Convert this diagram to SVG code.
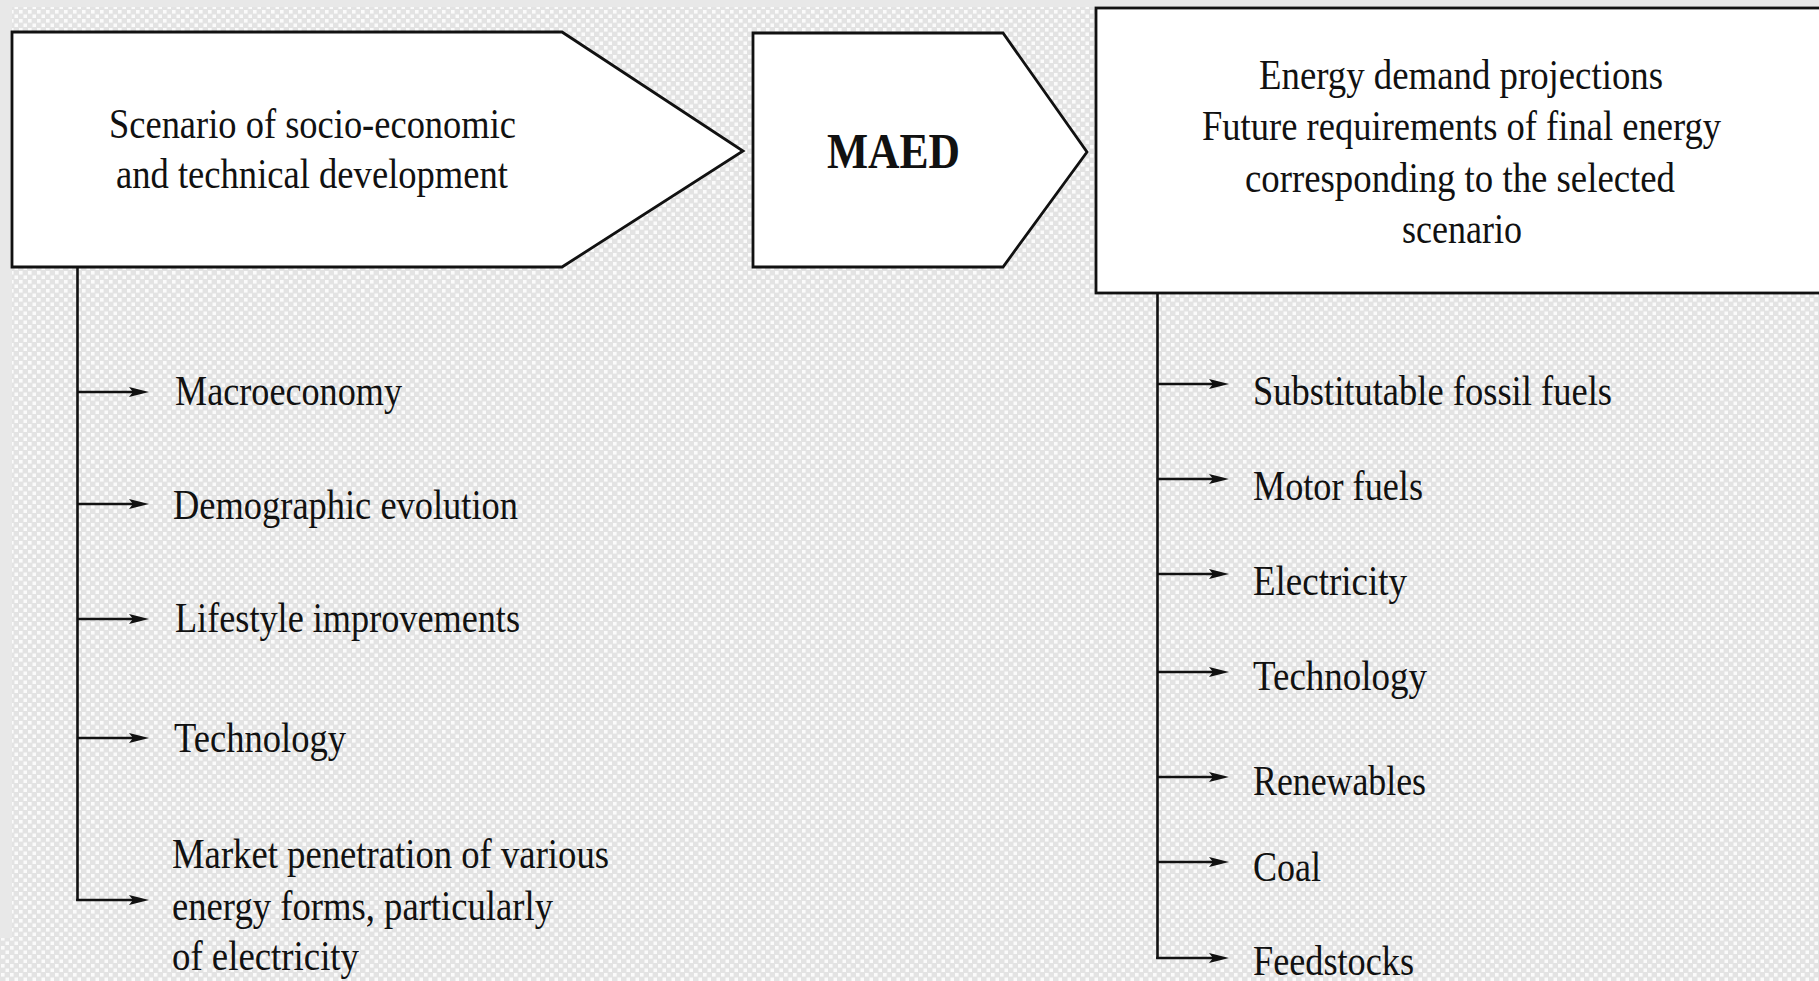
<svg xmlns="http://www.w3.org/2000/svg" width="1819" height="981" viewBox="0 0 1819 981">
  <style>
    .box { fill: #ffffff; stroke: #111111; stroke-width: 2.8; stroke-linejoin: miter; }
    .t { font-family: "Liberation Serif", "Times New Roman", serif; font-size: 43px; fill: #111111; }
    .tb { font-family: "Liberation Serif", "Times New Roman", serif; font-size: 50px; font-weight: bold; fill: #111111; }
    .line { fill: none; stroke: #111111; stroke-width: 2.6; }
    .arr { fill: none; stroke: #111111; stroke-width: 2.6; marker-end: url(#ah); }
  </style>
  <defs>
    <pattern id="dots" x="0" y="0" width="9" height="9" patternUnits="userSpaceOnUse">
      <rect width="9" height="9" fill="#e3e3e3"/>
      <rect x="1" y="1" width="3.6" height="3.6" fill="#fbfbfb"/>
      <rect x="5.5" y="5.5" width="3.6" height="3.6" fill="#fbfbfb"/>
    </pattern>
    <marker id="ah" markerUnits="userSpaceOnUse" markerWidth="22" markerHeight="12" refX="6" refY="5" orient="auto" overflow="visible">
      <path d="M0,0 L20,5 L0,10 L4,5 Z" fill="#111111"/>
    </marker>
  </defs>

  <!-- background -->
  <rect x="0" y="0" width="1819" height="981" fill="url(#dots)"/>
  <rect x="0" y="0" width="1819" height="7" fill="#e8e8e8"/>
  <rect x="0" y="0" width="12" height="938" fill="#e8e8e8"/>

  <!-- nodes -->
  <g id="node-scenario">
    <polygon class="box" points="12,32 562,32 743,151 562,267 12,267"/>
    <text class="t" x="109" y="138" textLength="407" lengthAdjust="spacingAndGlyphs">Scenario of socio-economic</text>
    <text class="t" x="116" y="188" textLength="392" lengthAdjust="spacingAndGlyphs">and technical development</text>
  </g>

  <g id="node-maed">
    <polygon class="box" points="753,33 1003,33 1087,152 1003,267 753,267"/>
    <text class="tb" x="827" y="168" textLength="133" lengthAdjust="spacingAndGlyphs">MAED</text>
  </g>

  <g id="node-demand">
    <rect class="box" x="1096" y="8" width="740" height="285"/>
    <text class="t" x="1259" y="89" textLength="404" lengthAdjust="spacingAndGlyphs">Energy demand projections</text>
    <text class="t" x="1202" y="140" textLength="519" lengthAdjust="spacingAndGlyphs">Future requirements of final energy</text>
    <text class="t" x="1245" y="192" textLength="430" lengthAdjust="spacingAndGlyphs">corresponding to the selected</text>
    <text class="t" x="1402" y="243" textLength="120" lengthAdjust="spacingAndGlyphs">scenario</text>
  </g>

  <!-- left list items -->
  <g id="node-macroeconomy">
    <text class="t" x="175" y="405" textLength="227" lengthAdjust="spacingAndGlyphs">Macroeconomy</text>
  </g>
  <g id="node-demographic">
    <text class="t" x="173" y="519" textLength="345" lengthAdjust="spacingAndGlyphs">Demographic evolution</text>
  </g>
  <g id="node-lifestyle">
    <text class="t" x="175" y="632" textLength="345" lengthAdjust="spacingAndGlyphs">Lifestyle improvements</text>
  </g>
  <g id="node-technology-left">
    <text class="t" x="174" y="752" textLength="172" lengthAdjust="spacingAndGlyphs">Technology</text>
  </g>
  <g id="node-market">
    <text class="t" x="172" y="868" textLength="437" lengthAdjust="spacingAndGlyphs">Market penetration of various</text>
    <text class="t" x="172" y="920" textLength="381" lengthAdjust="spacingAndGlyphs">energy forms, particularly</text>
    <text class="t" x="172" y="970" textLength="187" lengthAdjust="spacingAndGlyphs">of electricity</text>
  </g>

  <!-- right list items -->
  <g id="node-fossil">
    <text class="t" x="1253" y="405" textLength="359" lengthAdjust="spacingAndGlyphs">Substitutable fossil fuels</text>
  </g>
  <g id="node-motor">
    <text class="t" x="1253" y="500" textLength="170" lengthAdjust="spacingAndGlyphs">Motor fuels</text>
  </g>
  <g id="node-electricity">
    <text class="t" x="1253" y="595" textLength="154" lengthAdjust="spacingAndGlyphs">Electricity</text>
  </g>
  <g id="node-technology-right">
    <text class="t" x="1253" y="690" textLength="174" lengthAdjust="spacingAndGlyphs">Technology</text>
  </g>
  <g id="node-renewables">
    <text class="t" x="1253" y="795" textLength="173" lengthAdjust="spacingAndGlyphs">Renewables</text>
  </g>
  <g id="node-coal">
    <text class="t" x="1253" y="881" textLength="68" lengthAdjust="spacingAndGlyphs">Coal</text>
  </g>
  <g id="node-feedstocks">
    <text class="t" x="1253" y="975" textLength="161" lengthAdjust="spacingAndGlyphs">Feedstocks</text>
  </g>

  <!-- connectors -->
  <g id="connectors">
    <line class="line" x1="77.5" y1="267" x2="77.5" y2="901"/>
    <line class="arr" x1="77.5" y1="392" x2="135" y2="392"/>
    <line class="arr" x1="77.5" y1="504" x2="135" y2="504"/>
    <line class="arr" x1="77.5" y1="619" x2="135" y2="619"/>
    <line class="arr" x1="77.5" y1="738" x2="135" y2="738"/>
    <line class="arr" x1="76.2" y1="900" x2="135" y2="900"/>

    <line class="line" x1="1157.5" y1="293" x2="1157.5" y2="959"/>
    <line class="arr" x1="1157.5" y1="384" x2="1215" y2="384"/>
    <line class="arr" x1="1157.5" y1="479" x2="1215" y2="479"/>
    <line class="arr" x1="1157.5" y1="574" x2="1215" y2="574"/>
    <line class="arr" x1="1157.5" y1="672" x2="1215" y2="672"/>
    <line class="arr" x1="1157.5" y1="777" x2="1215" y2="777"/>
    <line class="arr" x1="1157.5" y1="862" x2="1215" y2="862"/>
    <line class="arr" x1="1156.2" y1="958" x2="1215" y2="958"/>
  </g>
</svg>
